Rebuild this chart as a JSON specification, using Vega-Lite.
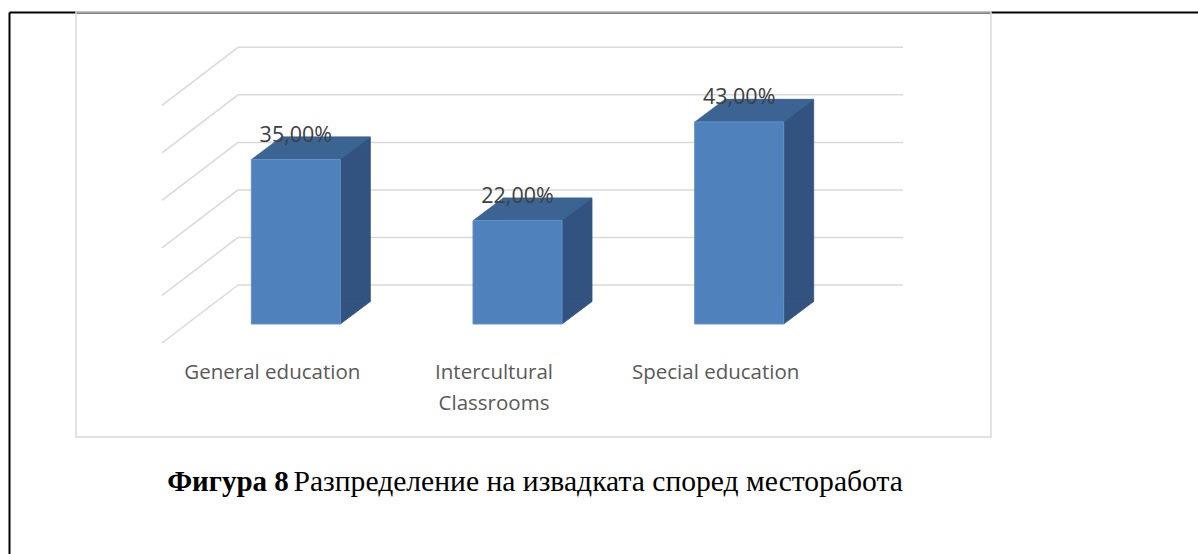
{
  "$schema": "https://vega.github.io/schema/vega-lite/v6.json",
  "width": 915,
  "height": 425,
  "autosize": {"type": "none"},
  "padding": {"left": 76, "top": 12, "right": 207, "bottom": 117},
  "background": "white",
  "view": {"stroke": "#d9d9d9", "strokeWidth": 1.5, "fill": "white"},
  "config": {
    "group": {"strokeForeground": true},
    "locale": {
      "number": {"decimal": ",", "thousands": " ", "grouping": [3], "currency": ["", ""]}
    }
  },
  "datasets": {
    "shares": [
      {"category": "General education", "share": 0.35},
      {"category": "Intercultural Classrooms", "share": 0.22},
      {"category": "Special education", "share": 0.43}
    ],
    "gridlines": [
      {"tick": 0},
      {"tick": 0.1},
      {"tick": 0.2},
      {"tick": 0.3},
      {"tick": 0.4},
      {"tick": 0.5}
    ]
  },
  "resolve": {
    "scale": {"x": "independent", "y": "independent"},
    "axis": {"x": "independent", "y": "independent"}
  },
  "layer": [
    {
      "data": {"name": "gridlines"},
      "encoding": {
        "y": {
          "field": "tick",
          "type": "quantitative",
          "scale": {"domain": [-0.56584, 0.57425], "range": [542, 0], "nice": false, "zero": false},
          "axis": {
            "orient": "left",
            "offset": 67,
            "domain": true,
            "domainColor": "black",
            "domainWidth": 2,
            "labels": false,
            "ticks": false,
            "grid": false,
            "title": "Фигура 8",
            "titleAngle": 0,
            "titleAlign": "left",
            "titleBaseline": "alphabetic",
            "titleX": 157.7,
            "titleY": 478,
            "titleFont": "Liberation Serif",
            "titleFontSize": 29,
            "titleFontWeight": "bold",
            "titleColor": "black"
          }
        }
      },
      "layer": [
        {
          "mark": {"type": "rule", "color": "#d9d9d9", "strokeWidth": 1.5},
          "encoding": {
            "x": {
              "datum": 0,
              "type": "quantitative",
              "scale": {"domain": [-0.34436, 1.44361], "range": [-67, 1122], "nice": false, "zero": false},
              "axis": {
                "orient": "top",
                "domain": true,
                "domainColor": "black",
                "domainWidth": 2,
                "labels": false,
                "ticks": false,
                "grid": false,
                "title": null
              }
            },
            "x2": {"datum": 1}
          }
        },
        {
          "mark": {"type": "rule", "color": "#d9d9d9", "strokeWidth": 1.5, "x2Offset": -76, "y2Offset": 58},
          "encoding": {
            "x": {"datum": 0, "type": "quantitative"},
            "x2": {"datum": 0},
            "y2": {"field": "tick"}
          }
        }
      ]
    },
    {
      "data": {"name": "shares"},
      "encoding": {
        "x": {
          "field": "category",
          "type": "nominal",
          "sort": null,
          "scale": {"type": "band", "range": [109, 774], "paddingInner": 0, "paddingOuter": 0},
          "axis": {
            "orient": "bottom",
            "offset": -58.7,
            "domain": false,
            "ticks": false,
            "tickSize": 0,
            "grid": false,
            "labelPadding": 0,
            "labelBaseline": "alphabetic",
            "labelOffset": -23.5,
            "labelAngle": 0,
            "labelFont": "Open Sans",
            "labelFontSize": 20.5,
            "labelColor": "#595959",
            "labelLineHeight": 31,
            "labelLimit": 0,
            "labelExpr": "datum.label == 'Intercultural Classrooms' ? ['Intercultural', 'Classrooms'] : datum.label",
            "title": "Разпределение на извадката според месторабота",
            "titleFont": "Liberation Serif",
            "titleFontSize": 29.6,
            "titleFontWeight": "normal",
            "titleColor": "black",
            "titleAlign": "left",
            "titleBaseline": "alphabetic",
            "titleX": 217,
            "titleY": 111.7
          }
        },
        "y": {
          "field": "share",
          "type": "quantitative",
          "scale": {"domain": [0, 0.5], "range": [312, 77], "nice": false},
          "axis": null
        }
      },
      "layer": [
        {
          "mark": {"type": "bar", "width": 89, "xOffset": 30, "yOffset": -22.5, "y2Offset": -22.5, "color": "#325380", "stroke": "#325380", "strokeWidth": 0.8}
        },
        {
          "mark": {"type": "point", "shape": "M44.5,0L44.5,-22.5L74.5,-22.5Z", "size": 4, "filled": true, "opacity": 1, "fill": "#325380", "stroke": "#325380", "strokeWidth": 0.8},
          "encoding": {"y": {"datum": 0, "type": "quantitative"}}
        },
        {
          "mark": {"type": "point", "shape": "M-44.5,0L44.5,0L74.5,-22.5L-14.5,-22.5Z", "size": 4, "filled": true, "opacity": 1, "fill": "#3c6493", "stroke": "#3c6493", "strokeWidth": 0.5}
        },
        {
          "mark": {"type": "bar", "width": 89, "color": "#4f81bd", "stroke": "#6391c9", "strokeWidth": 1}
        },
        {
          "mark": {"type": "text", "dy": -18, "baseline": "alphabetic", "align": "center", "font": "Open Sans", "fontSize": 21.5, "color": "#404040"},
          "encoding": {"text": {"field": "share", "type": "quantitative", "format": ".2%"}}
        }
      ]
    }
  ]
}
